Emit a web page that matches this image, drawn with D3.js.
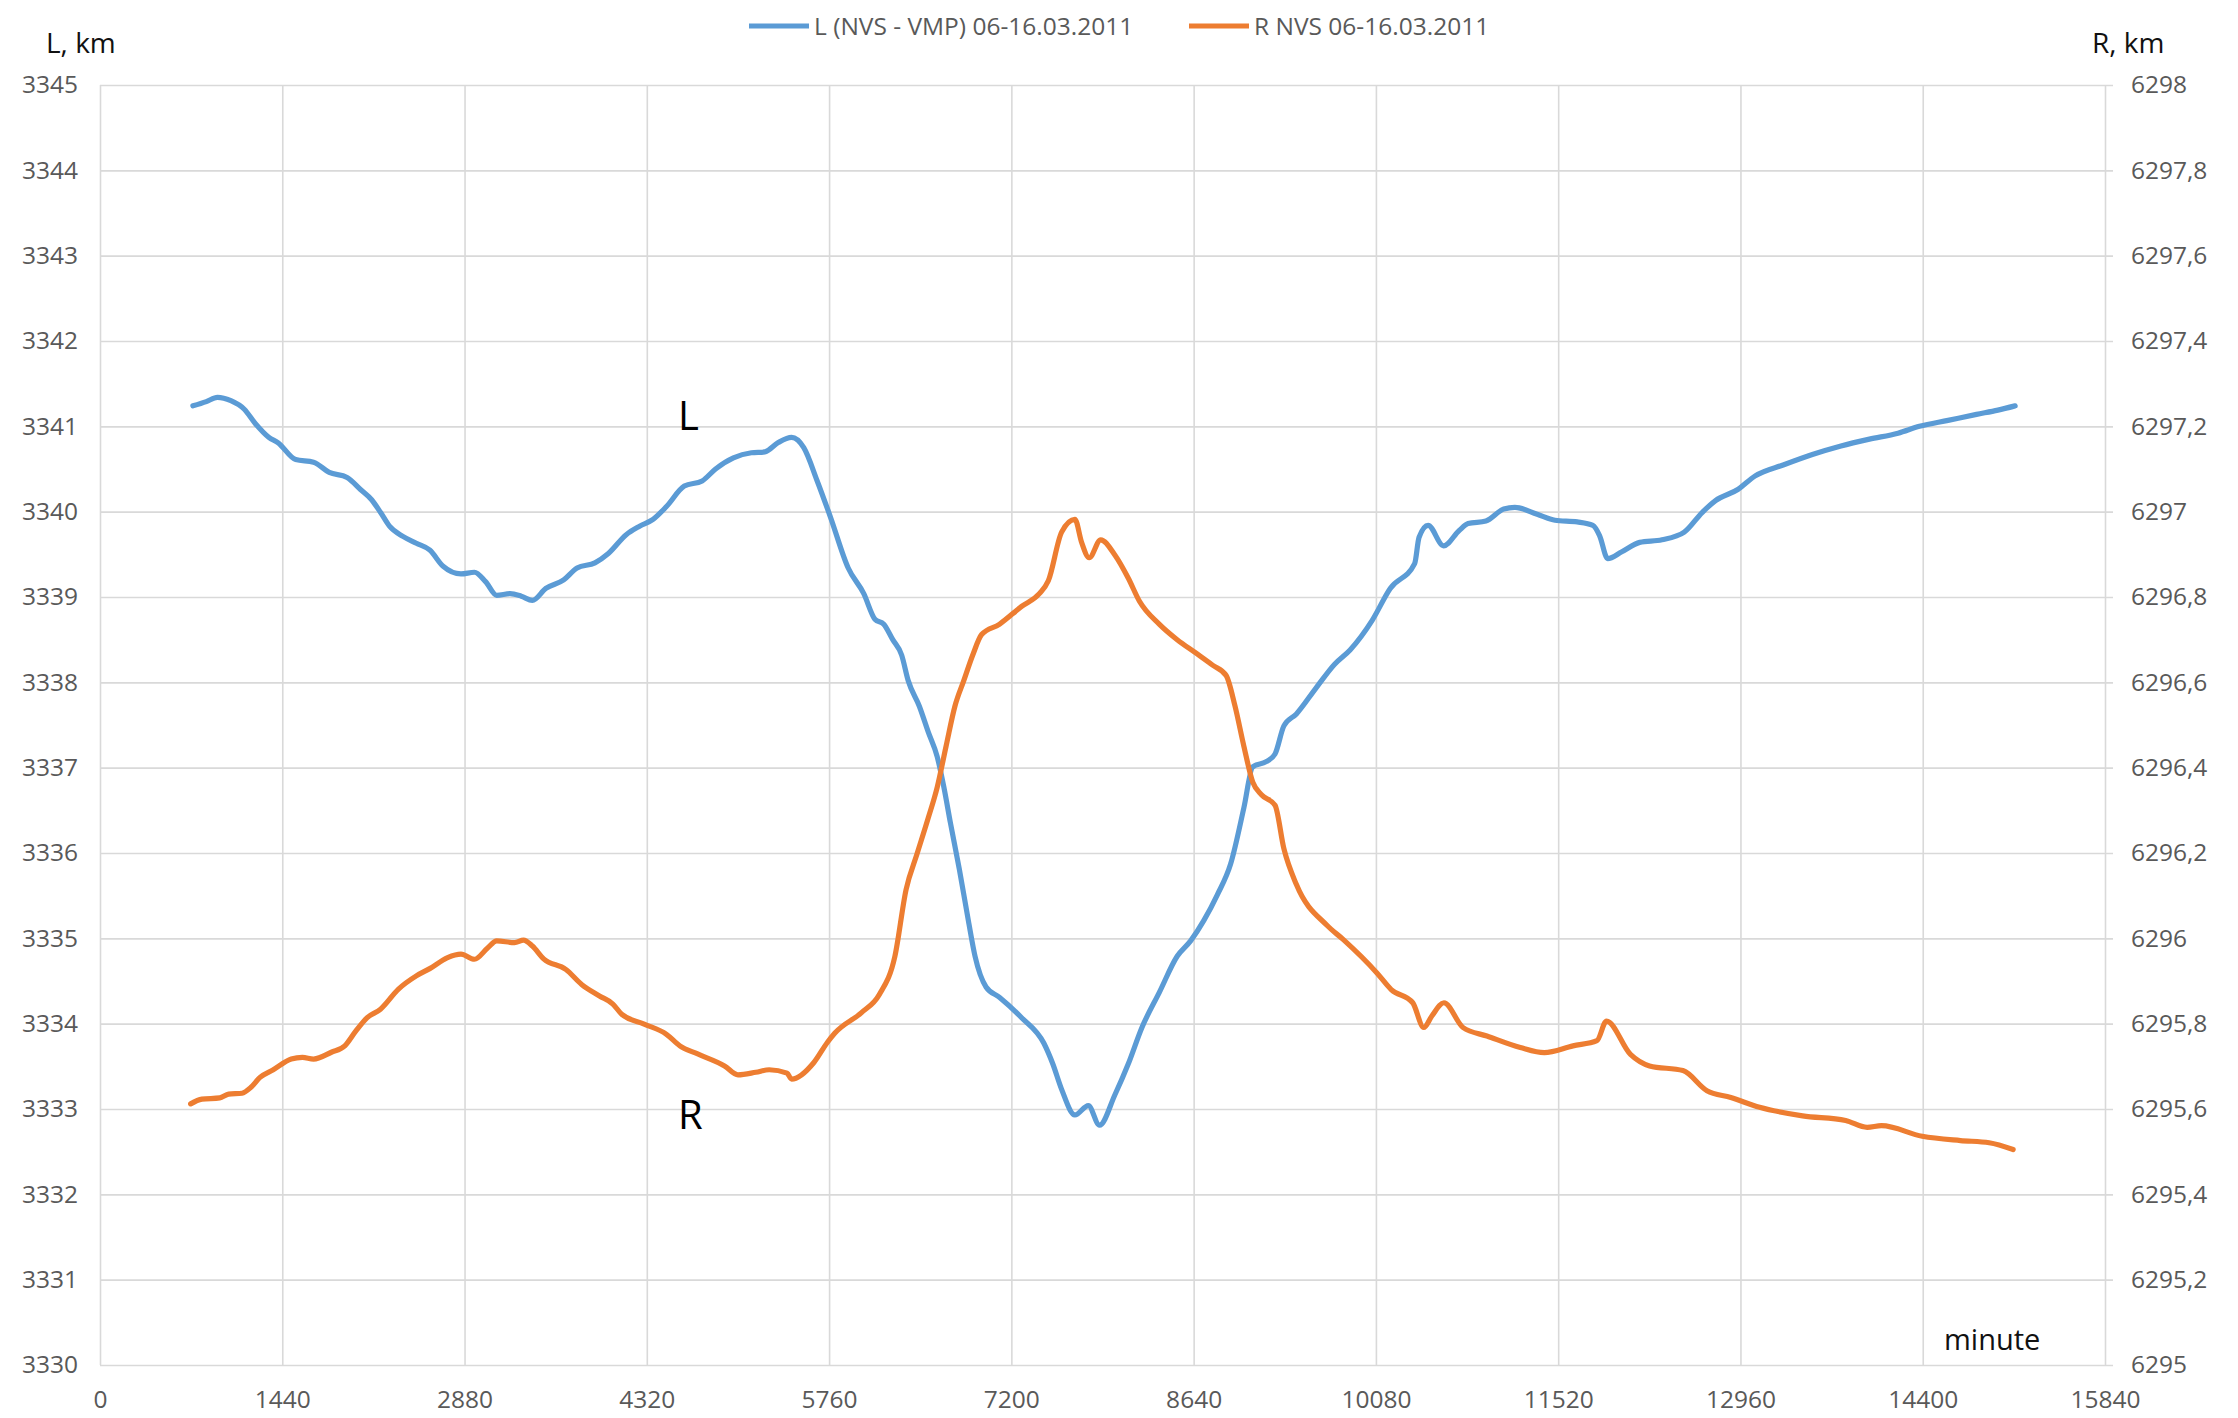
<!DOCTYPE html>
<html>
<head>
<meta charset="utf-8">
<script src="https://cdn.jsdelivr.net/npm/d3@7"></script>
<style>
  body { margin: 0; background: #fff; }
  text { font-family: "Open Sans", "Liberation Sans", sans-serif; }
</style>
</head>
<body>
<svg id="chart"></svg>
<script>
var w = 2238;
var h = 1418;

// L (NVS - VMP), km
var lMinutes = [734, 840, 928, 1034, 1140, 1228, 1334, 1405, 1546, 1687, 1811, 1952, 2058, 2146, 2217, 2287,
  2393, 2499, 2605, 2711, 2852, 2958, 3046, 3134, 3240, 3328, 3416, 3522, 3663, 3769, 3910, 4016, 4157,
  4263, 4369, 4475, 4616, 4757, 4863, 5004, 5146, 5252, 5358, 5464, 5560, 5666, 5770, 5911, 6034, 6122,
  6192, 6263, 6333, 6385, 6473, 6543, 6614, 6667, 6719, 6789, 6860, 6913, 7000, 7105, 7281, 7457, 7527,
  7597, 7702, 7808, 7896, 8019, 8124, 8230, 8370, 8510, 8616, 8721, 8827, 8932, 9037, 9107, 9213, 9283,
  9353, 9452, 9605, 9752, 9876, 10052, 10193, 10386, 10421, 10492, 10615, 10738, 10808, 10949, 11090,
  11178, 11354, 11495, 11671, 11794, 11847, 11911, 12023, 12164, 12340, 12516, 12657, 12763, 12939,
  13077, 13303, 13528, 13754, 13979, 14205, 14374, 14600, 14825, 14994, 15130];
var lValues = [3341.24, 3341.29, 3341.34, 3341.30, 3341.20, 3341.03, 3340.87, 3340.81, 3340.61, 3340.58,
  3340.46, 3340.40, 3340.26, 3340.14, 3339.99, 3339.83, 3339.71, 3339.63, 3339.55, 3339.36, 3339.27,
  3339.29, 3339.18, 3339.02, 3339.04, 3339.01, 3338.96, 3339.10, 3339.20, 3339.34, 3339.40, 3339.51,
  3339.73, 3339.83, 3339.91, 3340.06, 3340.30, 3340.36, 3340.50, 3340.63, 3340.69, 3340.70, 3340.81,
  3340.87, 3340.75, 3340.36, 3339.94, 3339.34, 3339.04, 3338.74, 3338.68, 3338.50, 3338.32, 3338.02,
  3337.72, 3337.42, 3337.13, 3336.77, 3336.35, 3335.81, 3335.21, 3334.79, 3334.43, 3334.31, 3334.07,
  3333.77, 3333.53, 3333.23, 3332.93, 3333.04, 3332.81, 3333.17, 3333.53, 3333.95, 3334.37, 3334.79,
  3334.97, 3335.21, 3335.51, 3335.87, 3336.53, 3337.01, 3337.07, 3337.16, 3337.49, 3337.63, 3337.93,
  3338.21, 3338.38, 3338.73, 3339.10, 3339.39, 3339.70, 3339.84, 3339.60, 3339.78, 3339.86, 3339.89,
  3340.03, 3340.05, 3339.97, 3339.90, 3339.88, 3339.84, 3339.72, 3339.45, 3339.53, 3339.64, 3339.67,
  3339.76, 3339.99, 3340.13, 3340.26, 3340.42, 3340.55, 3340.67, 3340.77, 3340.85, 3340.92, 3341.00,
  3341.07, 3341.14, 3341.19, 3341.24];

// R NVS, km
var rMinutes = [716, 805, 946, 1016, 1122, 1193, 1264, 1369, 1511, 1599, 1687, 1828, 1934, 2022, 2111,
  2216, 2358, 2499, 2605, 2746, 2852, 2958, 3064, 3134, 3275, 3346, 3416, 3505, 3681, 3805, 3946, 4052,
  4122, 4299, 4475, 4581, 4722, 4934, 5040, 5181, 5287, 5428, 5464, 5640, 5746, 5806, 6016, 6156, 6280,
  6368, 6455, 6543, 6614, 6684, 6754, 6824, 6895, 6965, 7105, 7281, 7421, 7492, 7597, 7702, 7755, 7815,
  7906, 8019, 8124, 8212, 8370, 8510, 8651, 8791, 8897, 8967, 9037, 9107, 9178, 9283, 9353, 9452, 9695,
  9823, 10088, 10201, 10371, 10458, 10522, 10617, 10768, 10957, 11221, 11410, 11637, 11826, 11902,
  12091, 12242, 12506, 12695, 12884, 13111, 13451, 13791, 13961, 14074, 14396, 14698, 14925, 15114];
var rValues = [6295.612, 6295.623, 6295.626, 6295.635, 6295.637, 6295.651, 6295.674, 6295.692, 6295.717,
  6295.721, 6295.717, 6295.733, 6295.748, 6295.783, 6295.814, 6295.834, 6295.881, 6295.912, 6295.929,
  6295.955, 6295.963, 6295.951, 6295.978, 6295.994, 6295.990, 6295.996, 6295.982, 6295.952, 6295.927,
  6295.892, 6295.865, 6295.846, 6295.822, 6295.799, 6295.775, 6295.748, 6295.729, 6295.701, 6295.680,
  6295.686, 6295.692, 6295.684, 6295.670, 6295.709, 6295.756, 6295.778, 6295.826, 6295.868, 6295.958,
  6296.114, 6296.198, 6296.282, 6296.354, 6296.450, 6296.544, 6296.604, 6296.664, 6296.712, 6296.736,
  6296.778, 6296.808, 6296.838, 6296.952, 6296.982, 6296.928, 6296.892, 6296.934, 6296.898, 6296.844,
  6296.790, 6296.736, 6296.700, 6296.670, 6296.640, 6296.616, 6296.544, 6296.450, 6296.366, 6296.336,
  6296.312, 6296.210, 6296.126, 6296.030, 6295.997, 6295.919, 6295.880, 6295.849, 6295.791, 6295.818,
  6295.849, 6295.791, 6295.771, 6295.744, 6295.732, 6295.748, 6295.760, 6295.806, 6295.728, 6295.701,
  6295.690, 6295.643, 6295.627, 6295.604, 6295.584, 6295.573, 6295.557, 6295.561, 6295.536, 6295.526,
  6295.521, 6295.505];

var xTicks = [0, 1440, 2880, 4320, 5760, 7200, 8640, 10080, 11520, 12960, 14400, 15840];
var lTicks = d3.range(3330, 3346, 1);
var rTicks = [6295, 6295.2, 6295.4, 6295.6, 6295.8, 6296, 6296.2, 6296.4, 6296.6, 6296.8,
  6297, 6297.2, 6297.4, 6297.6, 6297.8, 6298];

var seriesNames = ["L (NVS - VMP) 06-16.03.2011", "R NVS 06-16.03.2011"];
var colors = ["#5b9bd5", "#ed7d31"];

var plotLeft = 100, plotRight = 2105, plotTop = 85, plotBottom = 1365;

var x = d3.scaleLinear().domain([0, 15840]).range([plotLeft, plotRight]);
var yL = d3.scaleLinear().domain([3330, 3345]).range([plotBottom, plotTop]);
var yR = d3.scaleLinear().domain([6295, 6298]).range([plotBottom, plotTop]);

var comma = d3.formatLocale({decimal: ",", thousands: " ", grouping: [3], currency: ["", ""]});
var fmtR = comma.format("~f");

var svg = d3.select("#chart")
    .attr("width", w)
    .attr("height", h);

// grid
svg.append("g")
    .attr("transform", "translate(0," + plotBottom + ")")
    .call(d3.axisBottom(x).tickValues(xTicks).tickSize(-(plotBottom - plotTop)).tickFormat(""))
    .call(g => g.select(".domain").remove())
    .call(g => g.selectAll("line").attr("stroke", "#d9d9d9").attr("stroke-width", 1.6));

svg.append("g")
    .attr("transform", "translate(" + plotLeft + ",0)")
    .call(d3.axisLeft(yL).tickValues(lTicks).tickSize(-(plotRight - plotLeft + 8)).tickFormat(""))
    .call(g => g.select(".domain").remove())
    .call(g => g.selectAll("line").attr("stroke", "#d9d9d9").attr("stroke-width", 1.6));

// tick labels
var tickFont = function(g) {
    g.select(".domain").remove();
    g.selectAll("line").remove();
    g.selectAll("text")
        .attr("fill", "#595959")
        .style("font-size", "24.5px");
};

svg.append("g")
    .attr("transform", "translate(0," + plotBottom + ")")
    .call(d3.axisBottom(x).tickValues(xTicks).tickSize(0).tickPadding(26).tickFormat(d3.format("d")))
    .call(tickFont);

svg.append("g")
    .attr("transform", "translate(" + (plotLeft - 22) + ",0)")
    .call(d3.axisLeft(yL).tickValues(lTicks).tickSize(0).tickPadding(0).tickFormat(d3.format("d")))
    .call(tickFont);

svg.append("g")
    .attr("transform", "translate(" + (plotRight + 26) + ",0)")
    .call(d3.axisRight(yR).tickValues(rTicks).tickSize(0).tickPadding(0).tickFormat(fmtR))
    .call(tickFont);

// lines
var lineL = d3.line()
    .x(function(d, i) { return x(lMinutes[i]); })
    .y(function(d) { return yL(d); })
    .curve(d3.curveMonotoneX);

var lineR = d3.line()
    .x(function(d, i) { return x(rMinutes[i]); })
    .y(function(d) { return yR(d); })
    .curve(d3.curveMonotoneX);

svg.append("path")
    .datum(lValues)
    .attr("fill", "none")
    .attr("stroke", colors[0])
    .attr("stroke-width", 5.2)
    .attr("stroke-linejoin", "round")
    .attr("stroke-linecap", "round")
    .attr("d", lineL);

svg.append("path")
    .datum(rValues)
    .attr("fill", "none")
    .attr("stroke", colors[1])
    .attr("stroke-width", 5.2)
    .attr("stroke-linejoin", "round")
    .attr("stroke-linecap", "round")
    .attr("d", lineR);

// axis titles and labels
svg.append("text").attr("x", 46).attr("y", 53).style("font-size", "28px").attr("fill", "#111").text("L, km");
svg.append("text").attr("x", 2092).attr("y", 53).style("font-size", "28px").attr("fill", "#111").text("R, km");
svg.append("text").attr("x", 1944).attr("y", 1350).style("font-size", "29px").attr("fill", "#111").text("minute");
svg.append("text").attr("x", 678).attr("y", 430).style("font-size", "40px").attr("fill", "#000").text("L");
svg.append("text").attr("x", 678).attr("y", 1129).style("font-size", "40px").attr("fill", "#000").text("R");

// legend
var legendX = [749, 1189];
var legend = svg.selectAll("g.legend")
    .data(seriesNames)
    .enter()
    .append("g")
    .attr("class", "legend")
    .attr("transform", function(d, i) { return "translate(" + legendX[i] + ",26)"; });

legend.append("line")
    .attr("x1", 0).attr("x2", 60)
    .attr("stroke", function(d, i) { return colors[i]; })
    .attr("stroke-width", 5.2);

legend.append("text")
    .attr("x", 65)
    .attr("y", 8.5)
    .attr("fill", "#595959")
    .style("font-size", "24.5px")
    .text(function(d) { return d; });
</script>
</body>
</html>
